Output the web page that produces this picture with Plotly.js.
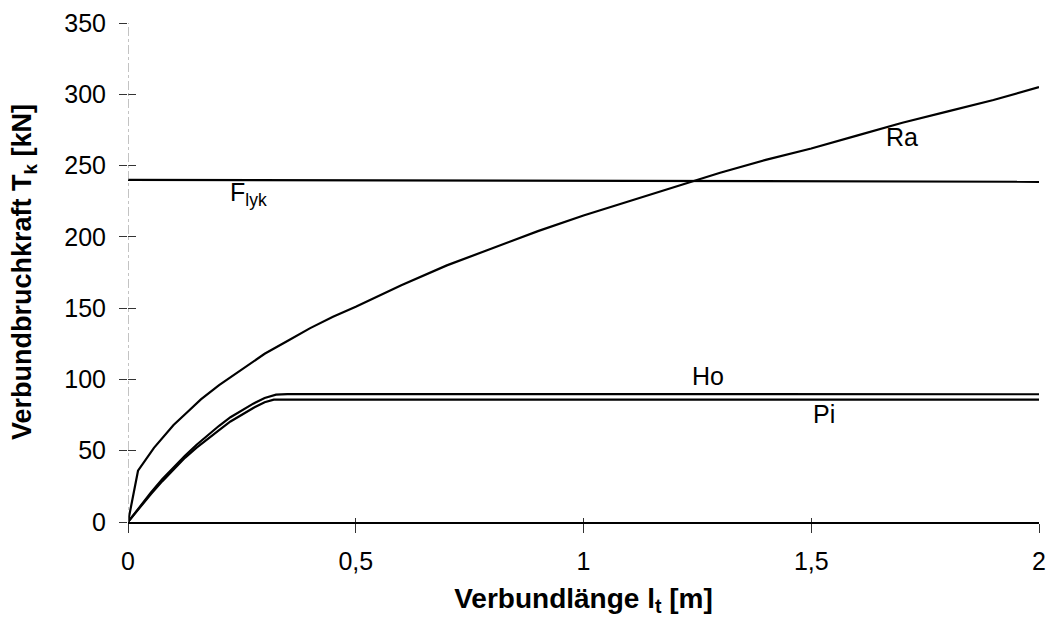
<!DOCTYPE html>
<html>
<head>
<meta charset="utf-8">
<script src="https://cdn.plot.ly/plotly-3.0.1.min.js"></script>
<style>html,body{margin:0;padding:0;background:#fff;}#chart{width:1049px;height:631px;}</style>
</head>
<body>
<div id="chart"></div>
<script>
// Ra curve
const raX = [0, 0.022, 0.057, 0.1, 0.13, 0.16, 0.2, 0.25, 0.3, 0.35, 0.4, 0.45, 0.5, 0.6, 0.7, 0.8, 0.9, 1.0, 1.1, 1.2, 1.3, 1.4, 1.5, 1.6, 1.7, 1.8, 1.9, 2.0];
const raY = [0, 36, 52, 68, 77, 86, 96, 107, 118, 127, 136, 144, 151, 166, 180, 192, 204, 215, 225, 235, 245, 254, 262, 271, 280, 288, 296, 305];
// Ho curve
const hoX = [0, 0.025, 0.05, 0.075, 0.1, 0.125, 0.15, 0.175, 0.2, 0.225, 0.25, 0.275, 0.3, 0.325, 0.35, 2.0];
const hoY = [0, 10.5, 20.5, 30, 38.5, 46.5, 54, 61, 67.5, 73.5, 78.5, 83, 87, 89.3, 89.7, 89.6];
// Pi curve
const piX = [0, 0.025, 0.05, 0.075, 0.1, 0.125, 0.15, 0.175, 0.2, 0.225, 0.25, 0.275, 0.3, 0.32, 2.0];
const piY = [0, 10, 19.5, 28.5, 37, 45, 52, 58.5, 64.5, 70.5, 75.5, 80, 84, 85.8, 85.8];
// F_lyk line
const fX = [0, 2.0];
const fY = [240, 238.6];

const xTicks = [0, 0.5, 1, 1.5, 2];
const xTickText = ['0', '0,5', '1', '1,5', '2'];
const yTicks = [0, 50, 100, 150, 200, 250, 300, 350];

const ln = {color: '#000', width: 2.2};
const traces = [
  {x: fX, y: fY, mode: 'lines', line: ln, hoverinfo: 'skip'},
  {x: raX, y: raY, mode: 'lines', line: ln, hoverinfo: 'skip'},
  {x: hoX, y: hoY, mode: 'lines', line: ln, hoverinfo: 'skip'},
  {x: piX, y: piY, mode: 'lines', line: ln, hoverinfo: 'skip'},
  {x: [0], y: [0], xaxis: 'x2', yaxis: 'y2', mode: 'markers', marker: {opacity: 0}, hoverinfo: 'skip'}
];

const font = 'Liberation Sans, Arial, sans-serif';
const layout = {
  width: 1049, height: 631,
  margin: {l: 127.5, r: 10, t: 23, b: 109},
  paper_bgcolor: '#fff', plot_bgcolor: '#fff',
  showlegend: false,
  font: {family: font, color: '#000', size: 25},
  xaxis: {
    range: [0, 2], tickvals: xTicks, ticktext: xTickText,
    showgrid: false, zeroline: false, showline: true, linecolor: '#000', linewidth: 2,
    ticks: 'outside', ticklen: 9, tickcolor: '#333', tickwidth: 1,
    ticklabelstandoff: 7,
    tickfont: {size: 25, family: font},
    title: {text: '<b>Verbundlänge l<sub>t</sub> [m]</b>', font: {size: 28, family: font}, standoff: 14}
  },
  yaxis: {
    range: [0, 350], tickvals: yTicks,
    showgrid: false, zeroline: false, showline: false,
    ticks: 'outside', ticklen: 8, tickcolor: '#333', tickwidth: 1,
    ticklabelstandoff: 8,
    tickfont: {size: 25, family: font}
  },
  xaxis2: {range: [0, 2], overlaying: 'x', tickvals: xTicks, showticklabels: false, ticks: 'inside', ticklen: 4, tickcolor: '#333', showgrid: false, zeroline: false, showline: false},
  yaxis2: {range: [0, 350], overlaying: 'y', tickvals: yTicks, showticklabels: false, ticks: 'inside', ticklen: 8, tickcolor: '#333', showgrid: false, zeroline: false, showline: false},
  shapes: [
    {type: 'line', xref: 'x', yref: 'y', x0: 0, x1: 0, y0: 0, y1: 350, line: {color: '#888', width: 1, dash: 'dashdot'}}
  ],
  annotations: [
    {x: -0.1146, y: 0.5, xref: 'paper', yref: 'paper', text: '<b>Verbundbruchkraft T<sub>k</sub> [kN]</b>', textangle: -90, showarrow: false, font: {size: 27, family: font}, xanchor: 'center', yanchor: 'middle'},
    {x: 1.66, y: 270, xref: 'x', yref: 'y', text: 'Ra', showarrow: false, font: {size: 25, family: font}, xanchor: 'left', yanchor: 'middle'},
    {x: 0.22, y: 230, xref: 'x', yref: 'y', text: 'F<sub>lyk</sub>', showarrow: false, font: {size: 25, family: font}, xanchor: 'left', yanchor: 'middle'},
    {x: 1.234, y: 102.5, xref: 'x', yref: 'y', text: 'Ho', showarrow: false, font: {size: 25, family: font}, xanchor: 'left', yanchor: 'middle'},
    {x: 1.5, y: 76, xref: 'x', yref: 'y', text: 'Pi', showarrow: false, font: {size: 25, family: font}, xanchor: 'left', yanchor: 'middle'}
  ]
};

Plotly.newPlot('chart', traces, layout, {displayModeBar: false, staticPlot: true});
</script>
</body>
</html>
